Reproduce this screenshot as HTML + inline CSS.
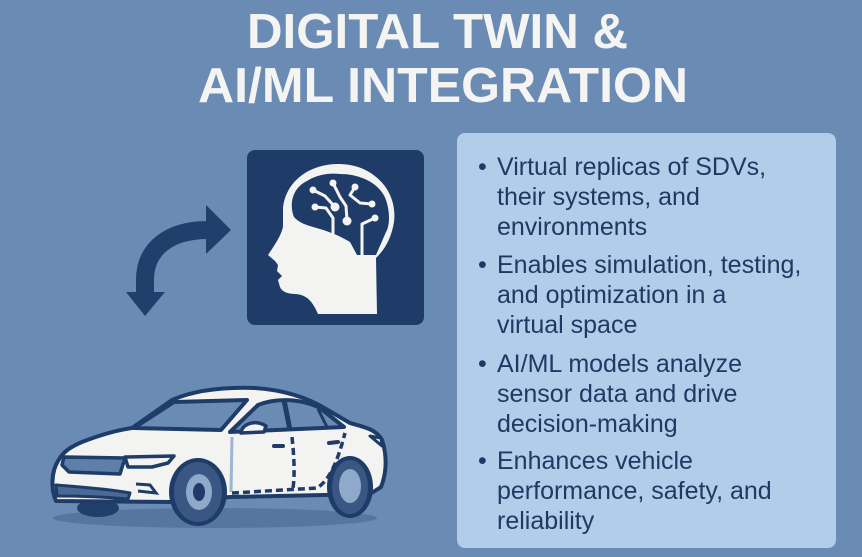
<!DOCTYPE html>
<html>
<head>
<meta charset="utf-8">
<style>
html,body{margin:0;padding:0;background:#6a8cb4;}
svg{display:block;}
</style>
</head>
<body>
<svg width="862" height="557" viewBox="0 0 862 557" xmlns="http://www.w3.org/2000/svg">
  <rect x="0" y="0" width="862" height="557" fill="#6a8cb4"/>

  <!-- Title -->
  <g font-family="'Liberation Sans', Arial, sans-serif" font-weight="bold" font-size="49" fill="#f4f4f2">
    <text x="247" y="48" textLength="381" lengthAdjust="spacingAndGlyphs">DIGITAL TWIN &amp;</text>
    <text x="198" y="102" textLength="490" lengthAdjust="spacingAndGlyphs">AI/ML INTEGRATION</text>
  </g>

  <!-- Right panel -->
  <rect x="457" y="133" width="379" height="415" rx="8" fill="#b1cdea"/>
  <g font-family="'Liberation Sans', Arial, sans-serif" font-size="25" fill="#1d3a62">
    <text x="478" y="175">•</text>
    <text x="497" y="175">Virtual replicas of SDVs,</text>
    <text x="497" y="205">their systems, and</text>
    <text x="497" y="235">environments</text>

    <text x="478" y="273">•</text>
    <text x="497" y="273">Enables simulation, testing,</text>
    <text x="497" y="303">and optimization in a</text>
    <text x="497" y="333">virtual space</text>

    <text x="478" y="372">•</text>
    <text x="497" y="372">AI/ML models analyze</text>
    <text x="497" y="402">sensor data and drive</text>
    <text x="497" y="432">decision-making</text>

    <text x="478" y="469">•</text>
    <text x="497" y="469">Enhances vehicle</text>
    <text x="497" y="499">performance, safety, and</text>
    <text x="497" y="529">reliability</text>
  </g>

  <!-- Curved arrow -->
  <path d="M145,296 L145,280 C145,248 170,230 208,230" fill="none" stroke="#213f6b" stroke-width="18"/>
  <polygon points="206,205 231,230 206,254" fill="#213f6b"/>
  <polygon points="126,292 165,292 145,316" fill="#213f6b"/>

  <!-- Head icon box -->
  <rect x="247" y="150" width="177" height="175" rx="8" fill="#1f3c68"/>
  <path d="M318,314 L377,314 L376,258 C384,250 391,240 394,222 C398,190 372,163 337,164 C304,165 284,186 283,210 L283,227 C281,236 274,246 268,255 L275,261 L278,265 L277,271 L282,276 L278,280 L280,287 C282,292 288,294 296,294 C306,295 312,300 318,314 Z" fill="#f3f3f1"/>
  <!-- brain cavity -->
  <path d="M294,217 C289,205 292,188 307,181 C318,174 330,173 340,174 C360,174 380,183 386,200 C390,212 390,225 386,232 L376,255 L357,255 L350,242 C340,236 330,232 320,229 C310,226 300,224 294,217 Z" fill="#1f3c68"/>
  <!-- circuit -->
  <g stroke="#f3f3f1" stroke-width="3" fill="none" stroke-linejoin="round">
    <path d="M333,183 L340,197 L346,206 L347,220"/>
    <path d="M313,190 L325,196 L335,207"/>
    <path d="M355,187 L350,195 L360,203 L372,204"/>
    <path d="M315,207 L326,208 L333,218 L333,240"/>
    <path d="M375,218 L362,224 L362,258"/>
  </g>
  <g fill="#f3f3f1">
    <circle cx="333" cy="183" r="3.5"/>
    <circle cx="313" cy="190" r="3.5"/>
    <circle cx="335" cy="207" r="4.5"/>
    <circle cx="355" cy="187" r="3.5"/>
    <circle cx="372" cy="204" r="3.5"/>
    <circle cx="315" cy="207" r="3.5"/>
    <circle cx="347" cy="221" r="4.5"/>
    <circle cx="375" cy="218" r="3.5"/>
  </g>

  <!-- Car -->
  <ellipse cx="215" cy="518" rx="162" ry="10" fill="#55779f"/>
  <ellipse cx="98" cy="508" rx="21" ry="9" fill="#213f6b"/>
  <!-- body -->
  <path d="M56,501 C51,490 51,472 58,461 C63,452 70,447 82,442 C100,435 118,430 132,428 L172,400 C195,390 225,387 255,388 C285,390 308,398 326,409 L350,423 C365,427 377,430 382,440 C387,455 387,472 381,487 L370,494 L230,497 L172,502 Z" fill="#f3f3f1" stroke="#1f3c68" stroke-width="4" stroke-linejoin="round"/>
  <!-- windshield -->
  <path d="M134,428 L174,402 L247,400 L221,430 Z" fill="#6a8cb4" stroke="#1f3c68" stroke-width="4" stroke-linejoin="round"/>
  <!-- side windows -->
  <path d="M230,432 L258,405 C275,398 300,398 320,408 L344,427 Z" fill="#6a8cb4" stroke="#1f3c68" stroke-width="4" stroke-linejoin="round"/>
  <line x1="284" y1="400" x2="290" y2="430" stroke="#1f3c68" stroke-width="5"/>
  <line x1="318" y1="409" x2="327" y2="427" stroke="#1f3c68" stroke-width="3"/>
  <!-- mirror -->
  <path d="M241,433 C242,424 255,419 266,426 L264,432 Z" fill="#f3f3f1" stroke="#1f3c68" stroke-width="3.5" stroke-linejoin="round"/>
  <!-- door line -->
  <line x1="232" y1="437" x2="231" y2="492" stroke="#9bb5d3" stroke-width="3"/>
  <!-- dashed lines -->
  <g stroke="#1f3c68" stroke-width="3.5" fill="none" stroke-dasharray="7 4">
    <path d="M292,437 C294,455 295,475 293,488"/>
    <path d="M232,493 L317,488 C330,480 338,460 345,433"/>
  </g>
  <g stroke="#1f3c68" stroke-width="4" stroke-linecap="round">
    <line x1="274" y1="446" x2="283" y2="446"/>
    <line x1="329" y1="443" x2="338" y2="442"/>
  </g>
  <!-- grille & headlight -->
  <path d="M64,457 L125,458 L120,474 L69,472 L62,465 Z" fill="#5d7fa8" stroke="#1f3c68" stroke-width="3.5" stroke-linejoin="round"/>
  <path d="M125,457 L174,456 L168,463 L152,467 L128,467 Z" fill="#f3f3f1" stroke="#1f3c68" stroke-width="3.5" stroke-linejoin="round"/>
  <!-- lower intake -->
  <path d="M56,485 C80,487 110,489 130,493 L128,499 C105,497 80,496 57,496 Z" fill="#4a6a96" stroke="#1f3c68" stroke-width="3" stroke-linejoin="round"/>
  <path d="M136,484 L150,485 L156,493 L138,491" fill="none" stroke="#1f3c68" stroke-width="3"/>
  <!-- taillight -->
  <path d="M370,436 L381,438 L382,446 Z" fill="#f3f3f1" stroke="#1f3c68" stroke-width="3" stroke-linejoin="round"/>
  <!-- wheels -->
  <ellipse cx="198" cy="492" rx="29" ry="34" fill="#1f3c68"/>
  <ellipse cx="198" cy="492" rx="24" ry="30" fill="#3a5784"/>
  <ellipse cx="199" cy="492" rx="13" ry="18" fill="#8ea9c9"/>
  <ellipse cx="199" cy="492" rx="6" ry="9" fill="#1f3c68"/>
  <ellipse cx="350" cy="487" rx="23" ry="31" fill="#1f3c68"/>
  <ellipse cx="350" cy="487" rx="18" ry="27" fill="#3a5784"/>
  <ellipse cx="350" cy="486" rx="11" ry="17" fill="#8ea9c9"/>
</svg>
</body>
</html>
